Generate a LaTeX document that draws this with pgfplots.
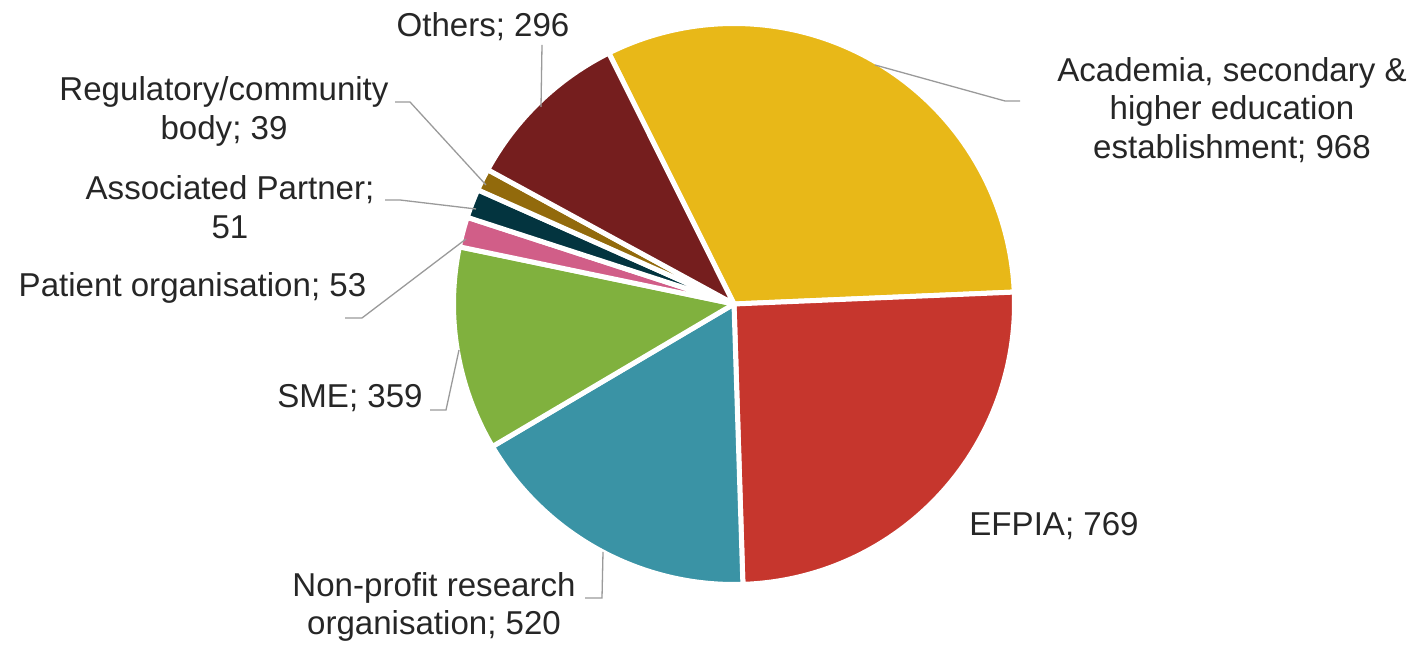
\documentclass[border=0pt]{standalone}
\usepackage{fontspec}
\setmainfont{Liberation Sans}
\usepackage{pgfplots}
\pgfplotsset{compat=1.18}
\usepackage{pgfplotstable}
\definecolor{cAca}{HTML}{E8B818}
\definecolor{cEF}{HTML}{C6362D}
\definecolor{cNP}{HTML}{3A93A5}
\definecolor{cSME}{HTML}{80B13E}
\definecolor{cPat}{HTML}{D15E88}
\definecolor{cAss}{HTML}{03343F}
\definecolor{cReg}{HTML}{926A0C}
\definecolor{cOth}{HTML}{751E1E}
\definecolor{txt}{HTML}{262626}
\definecolor{lead}{HTML}{9A9A9A}
\pgfplotstableread[col sep=comma]{
label,value,color
Academia,968,cAca
EFPIA,769,cEF
NonProfit,520,cNP
SME,359,cSME
Patient,53,cPat
Associated,51,cAss
Regulatory,39,cReg
Others,296,cOth
}\piedata
\begin{document}
\begin{tikzpicture}
\begin{axis}[width=1418bp,height=647bp,scale only axis,
  xmin=0,xmax=1418,ymin=0,ymax=647,hide axis,clip=false]
\path (axis cs:0,0) rectangle (axis cs:1418,647);
\gdef\total{0}
\pgfplotsinvokeforeach{0,...,7}{%
  \pgfplotstablegetelem{#1}{value}\of\piedata
  \pgfmathsetmacro\tmp{\total+\pgfplotsretval}\xdef\total{\tmp}}
\gdef\startA{116.5}
\pgfplotsinvokeforeach{0,...,7}{%
  \pgfplotstablegetelem{#1}{value}\of\piedata
  \pgfmathsetmacro\endA{\startA-\pgfplotsretval/\total*360}%
  \pgfplotstablegetelem{#1}{color}\of\piedata
  \edef\cmd{\noexpand\fill[\pgfplotsretval,draw=white,line width=5bp,line join=round]
    (axis cs:734,343) -- ++(\startA:280.5bp) arc[start angle=\startA,end angle=\endA,radius=280.5bp] -- cycle;}%
  \cmd
  \xdef\startA{\endA}}
% leader lines
\draw[lead,line width=1.3bp] (axis cs:542,602) -- (axis cs:541,540);
\draw[lead,line width=1.3bp] (axis cs:395,545) -- (axis cs:410,545) -- (axis cs:486,462);
\draw[lead,line width=1.3bp] (axis cs:385,447) -- (axis cs:400,447) -- (axis cs:476,438);
\draw[lead,line width=1.3bp] (axis cs:345,329) -- (axis cs:362,329) -- (axis cs:466,408);
\draw[lead,line width=1.3bp] (axis cs:430,237) -- (axis cs:446,237) -- (axis cs:459,297);
\draw[lead,line width=1.3bp] (axis cs:585,49) -- (axis cs:602,49) -- (axis cs:603,95);
\draw[lead,line width=1.3bp] (axis cs:875,582) -- (axis cs:1005,546) -- (axis cs:1020,546);
% labels
\tikzset{lab/.style={text=txt,align=center,inner sep=0pt,font=\fontsize{33.2}{38.7}\selectfont}}
\node[lab] at (axis cs:483,620) {Others; 296};
\node[lab] at (axis cs:224,535.5) {Regulatory/community\\body; 39};
\node[lab] at (axis cs:230,440) {Associated Partner;\\51};
\node[lab] at (axis cs:192.5,359) {Patient organisation; 53};
\node[lab] at (axis cs:350,249) {SME; 359};
\node[lab] at (axis cs:434,40) {Non-profit research\\organisation; 520};
\node[lab] at (axis cs:1054,121) {EFPIA; 769};
\node[lab] at (axis cs:1232,537) {Academia, secondary \&\\higher education\\establishment; 968};
\end{axis}
\end{tikzpicture}
\end{document}
